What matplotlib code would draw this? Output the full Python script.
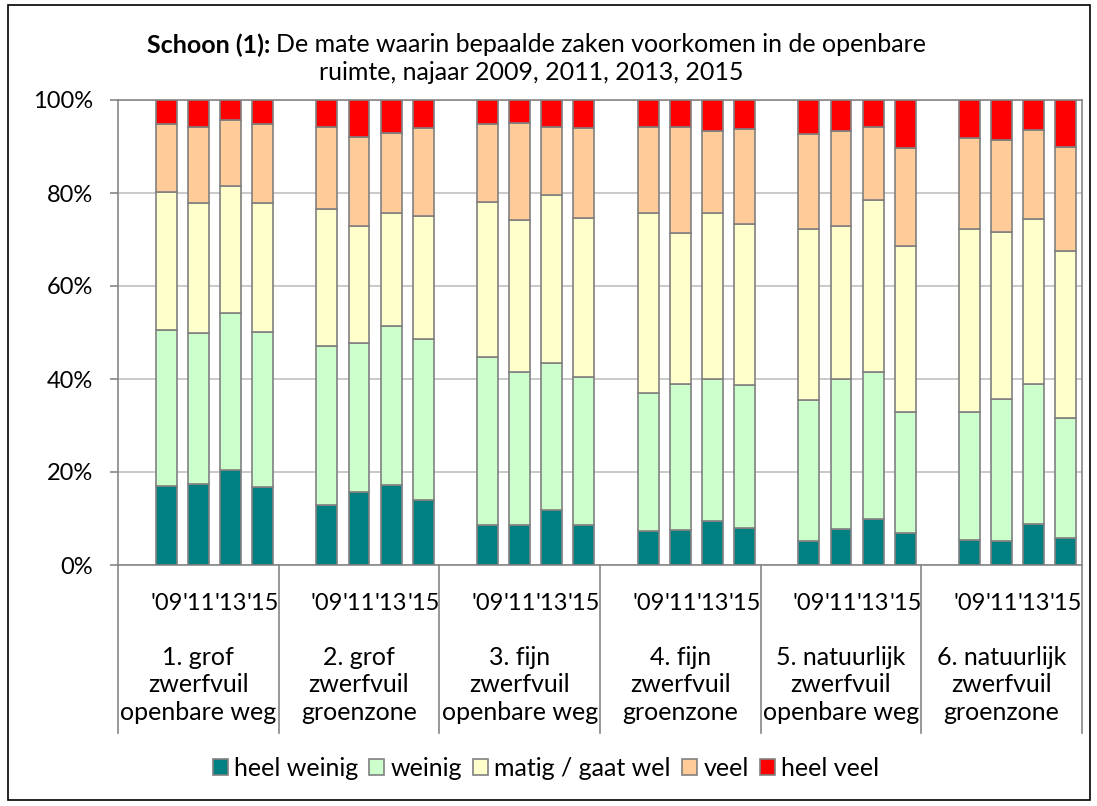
import matplotlib
matplotlib.use("Agg")
import matplotlib.pyplot as plt
from matplotlib.patches import Patch, Rectangle
import numpy as np

plt.rcParams['font.family'] = ['Lato', 'DejaVu Sans']

groups = ["1. grof\nzwerfvuil\nopenbare weg", "2. grof\nzwerfvuil\ngroenzone",
          "3. fijn\nzwerfvuil\nopenbare weg", "4. fijn\nzwerfvuil\ngroenzone",
          "5. natuurlijk\nzwerfvuil\nopenbare weg", "6. natuurlijk\nzwerfvuil\ngroenzone"]
years = ["'09", "'11", "'13", "'15"]
series = ["heel weinig", "weinig", "matig / gaat wel", "veel", "heel veel"]
colors = ["#008080", "#CCFFCC", "#FFFFCC", "#FFCC99", "#FF0000"]

heel_weinig = [17.0, 17.4, 20.4, 16.8, 12.8, 15.6, 17.1, 14.0, 8.6, 8.5, 11.8, 8.5,
               7.4, 7.5, 9.5, 8.0, 5.2, 7.8, 9.9, 6.8, 5.4, 5.1, 8.8, 5.7]
weinig = [33.5, 32.6, 33.9, 33.4, 34.2, 32.1, 34.4, 34.7, 36.2, 33.1, 31.6, 32.0,
          29.5, 31.4, 30.6, 30.7, 30.3, 32.1, 31.5, 26.2, 27.6, 30.7, 30.1, 25.9]
matig = [29.8, 27.8, 27.1, 27.6, 29.6, 25.3, 24.3, 26.4, 33.3, 32.6, 36.2, 34.2,
         38.7, 32.4, 35.7, 34.6, 36.8, 33.0, 37.1, 35.5, 39.3, 35.9, 35.6, 35.9]
veel = [14.5, 16.5, 14.2, 17.0, 17.5, 19.0, 17.2, 18.9, 16.8, 20.9, 14.5, 19.3,
        18.7, 22.8, 17.6, 20.5, 20.4, 20.5, 15.8, 21.1, 19.5, 19.7, 19.0, 22.3]
heel_veel = [5.2, 5.7, 4.4, 5.2, 5.9, 8.0, 7.0, 6.0, 5.1, 4.9, 5.9, 6.0,
             5.7, 5.9, 6.6, 6.2, 7.3, 6.6, 5.7, 10.4, 8.2, 8.6, 6.5, 10.2]

data = np.array([heel_weinig, weinig, matig, veel, heel_veel])
data = data / data.sum(axis=0) * 100

W, H = 1097, 806
fig = plt.figure(figsize=(W / 100, H / 100), dpi=100)
fig.patches.append(Rectangle((8 / W, 1 - 800 / H), (1090 - 8) / W, (800 - 5) / H,
                             transform=fig.transFigure, fill=False, edgecolor='black',
                             linewidth=1.2, zorder=0))

L, R, T, B = 118, 1082, 100, 565
ax = fig.add_axes([L / W, 1 - B / H, (R - L) / W, (B - T) / H])

ng = len(groups)
x = np.array([g * 5 + s + 1 for g in range(ng) for s in range(4)], dtype=float)
bottom = np.zeros(len(x))
for i, name in enumerate(series):
    ax.bar(x, data[i], 0.65, bottom=bottom, color=colors[i], edgecolor='#808080',
           linewidth=1.2, label=name, zorder=3)
    bottom += data[i]

ax.set_xlim(-0.5, ng * 5 - 0.5)
ax.set_ylim(0, 100)
ax.set_yticks([0, 20, 40, 60, 80, 100])
ax.set_yticklabels(["0%", "20%", "40%", "60%", "80%", "100%"])
ax.yaxis.grid(True, color='#C0C0C0', linewidth=1.2, zorder=0)
ax.set_axisbelow(True)
for sp in ax.spines.values():
    sp.set_color('#868686')
    sp.set_linewidth(1.2)
ax.tick_params(axis='y', direction='out', length=6, width=1.2, color='#868686',
               labelsize=17, pad=12)
ax.set_xticks([])

trans = ax.get_xaxis_transform()
ybot = -(733 - B) / (B - T)
for g in range(ng + 1):
    xb = g * 5 - 0.5
    ax.plot([xb, xb], [0, ybot], color='#868686', linewidth=1.2, transform=trans,
            clip_on=False)
for xi, lab in zip(x, years * ng):
    ax.text(xi, -(603 - B) / (B - T), lab, transform=trans, ha='center', va='center',
            fontsize=17)
for g, lab in enumerate(groups):
    ax.text(g * 5 + 2.0, -(685 - B) / (B - T), lab, transform=trans, ha='center',
            va='center', fontsize=18, linespacing=1.22)

# Title with a bold prefix
t1 = fig.text(147 / W, 1 - 45 / H, "Schoon (1):", fontsize=18, fontweight='bold',
              ha='left', va='center')
fig.canvas.draw()
bb = t1.get_window_extent(renderer=fig.canvas.get_renderer())
fig.text(bb.x1 / W + 6 / W, 1 - 45 / H,
         "De mate waarin bepaalde zaken voorkomen in de openbare",
         fontsize=18, ha='left', va='center')
fig.text(531 / W, 1 - 72 / H, "ruimte, najaar 2009, 2011, 2013, 2015",
         fontsize=18, ha='center', va='center')

handles = [Patch(facecolor=c, edgecolor='#808080', linewidth=1.2, label=s)
           for c, s in zip(colors, series)]
fig.legend(handles=handles, loc='center', bbox_to_anchor=(546 / W, 1 - 768 / H),
           ncol=5, frameon=False, fontsize=18, handlelength=0.6, handleheight=0.6,
           handletextpad=0.25, columnspacing=0.45, borderaxespad=0)

fig.savefig("out.png", dpi=100)
